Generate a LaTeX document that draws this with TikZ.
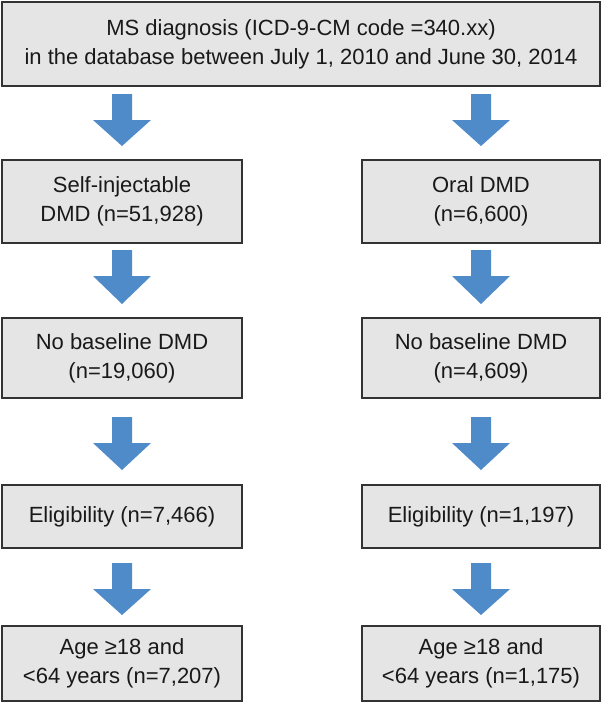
\documentclass[tikz,border=0pt]{standalone}
\usepackage{fontspec}
\setmainfont{Liberation Sans}
\begin{document}
\begin{tikzpicture}[x=1pt,y=-1pt,
  box/.style={draw=black!80,line width=1.2pt,fill=black!10,inner sep=0pt},
  txt/.style={font=\fontsize{22}{29}\selectfont,align=center,text=black!90},
  fat/.style={fill={rgb,255:red,79;green,139;blue,201}}]
\useasboundingbox (0,0) rectangle (602,702);
\node[box,minimum width=598,minimum height=84] (top) at (301,44) {};
\node[txt] at (top) {MS diagnosis (ICD-9-CM code =340.xx)\\in the database between July 1, 2010 and June 30, 2014};
\foreach \n/\x/\w in {L/122/240,R/481/238}{
  \node[box,minimum width=\w,minimum height=83] (a\n) at (\x,201.5) {};
  \node[box,minimum width=\w,minimum height=80] (b\n) at (\x,358) {};
  \node[box,minimum width=\w,minimum height=63] (c\n) at (\x,516.5) {};
  \node[box,minimum width=\w,minimum height=75] (d\n) at (\x,663.5) {};
  \foreach \ya/\yb in {94/146,250/304,417/470,563/615}{
    \fill[fat] (\x-10,\ya) -- (\x+10,\ya) -- (\x+10,\ya+26) -- (\x+29,\ya+26) -- (\x,\yb) -- (\x-29,\ya+26) -- (\x-10,\ya+26) -- cycle;
  }
}
\node[txt] at (aL) {Self-injectable\\DMD (n=51,928)};
\node[txt] at (aR) {Oral DMD\\(n=6,600)};
\node[txt] at (bL) {No baseline DMD\\(n=19,060)};
\node[txt] at (bR) {No baseline DMD\\(n=4,609)};
\node[txt] at (cL) {Eligibility (n=7,466)};
\node[txt] at (cR) {Eligibility (n=1,197)};
\node[txt] at (dL) {Age ≥18 and\\<64 years (n=7,207)};
\node[txt] at (dR) {Age ≥18 and\\<64 years (n=1,175)};
\end{tikzpicture}
\end{document}
